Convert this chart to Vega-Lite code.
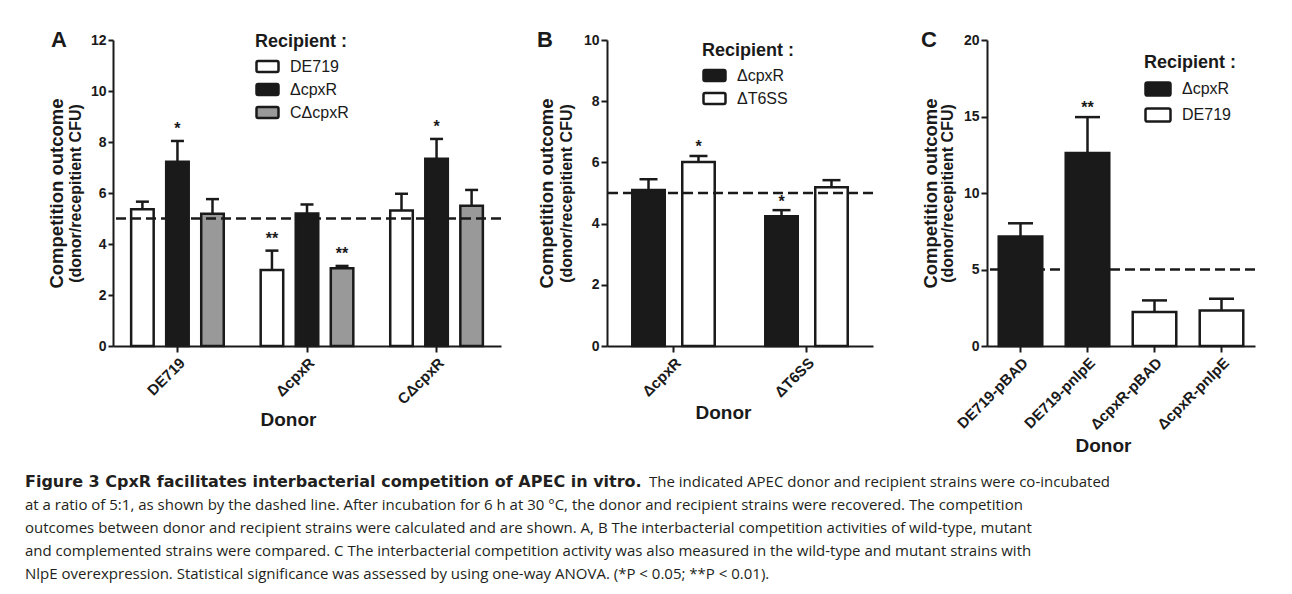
{
  "$schema": "https://vega.github.io/schema/vega-lite/v6.json",
  "background": "white",
  "padding": {"left": 25, "top": 29, "right": 5, "bottom": 5},
  "config": {
    "font": "Liberation Sans",
    "view": {"stroke": null},
    "axis": {
      "grid": false,
      "domainColor": "#1a1a1a",
      "domainWidth": 2,
      "tickColor": "#1a1a1a",
      "tickWidth": 2,
      "labelColor": "#1a1a1a",
      "titleColor": "#1a1a1a",
      "labelFont": "Liberation Sans",
      "titleFont": "Liberation Sans",
      "labelFontWeight": "bold",
      "titleFontWeight": "bold"
    },
    "axisX": {"labelAngle": -45, "labelFontSize": 15, "titleFontSize": 19, "tickSize": 6, "labelPadding": 3, "titlePadding": 4},
    "axisY": {"labelFontSize": 14, "tickSize": 5, "labelPadding": 2},
    "legend": {
      "orient": "none",
      "titleFont": "Liberation Sans",
      "titleFontSize": 18,
      "titleFontWeight": "bold",
      "titleColor": "#1a1a1a",
      "labelFont": "Liberation Sans",
      "labelFontSize": 16,
      "labelColor": "#1a1a1a",
      "labelOffset": 10,
      "titlePadding": 3,
      "rowPadding": 0,
      "symbolStrokeColor": "#1a1a1a",
      "symbolStrokeWidth": 2.5
    },
    "title": {"font": "Liberation Sans", "fontSize": 22, "fontWeight": "bold", "color": "#1a1a1a", "anchor": "start", "frame": "bounds", "offset": -19, "baseline": "alphabetic"}
  },
  "datasets": {
    "a": [
      {"donor": "DE719", "recipient": "DE719", "mean": 5.36, "upper": 5.66, "sig": ""},
      {"donor": "DE719", "recipient": "ΔcpxR", "mean": 7.23, "upper": 8.04, "sig": "*"},
      {"donor": "DE719", "recipient": "CΔcpxR", "mean": 5.19, "upper": 5.76, "sig": ""},
      {"donor": "ΔcpxR", "recipient": "DE719", "mean": 2.98, "upper": 3.74, "sig": "**"},
      {"donor": "ΔcpxR", "recipient": "ΔcpxR", "mean": 5.2, "upper": 5.55, "sig": ""},
      {"donor": "ΔcpxR", "recipient": "CΔcpxR", "mean": 3.05, "upper": 3.14, "sig": "**"},
      {"donor": "CΔcpxR", "recipient": "DE719", "mean": 5.31, "upper": 5.97, "sig": ""},
      {"donor": "CΔcpxR", "recipient": "ΔcpxR", "mean": 7.34, "upper": 8.12, "sig": "*"},
      {"donor": "CΔcpxR", "recipient": "CΔcpxR", "mean": 5.5, "upper": 6.12, "sig": ""}
    ],
    "b": [
      {"donor": "ΔcpxR", "recipient": "ΔcpxR", "mean": 5.1, "upper": 5.45, "sig": ""},
      {"donor": "ΔcpxR", "recipient": "ΔT6SS", "mean": 6.01, "upper": 6.21, "sig": "*"},
      {"donor": "ΔT6SS", "recipient": "ΔcpxR", "mean": 4.24, "upper": 4.44, "sig": "*"},
      {"donor": "ΔT6SS", "recipient": "ΔT6SS", "mean": 5.19, "upper": 5.42, "sig": ""}
    ],
    "c": [
      {"donor": "DE719-pBAD", "recipient": "ΔcpxR", "mean": 7.16, "upper": 8.02, "sig": ""},
      {"donor": "DE719-pnlpE", "recipient": "ΔcpxR", "mean": 12.62, "upper": 14.96, "sig": "**"},
      {"donor": "ΔcpxR-pBAD", "recipient": "DE719", "mean": 2.23, "upper": 2.98, "sig": ""},
      {"donor": "ΔcpxR-pnlpE", "recipient": "DE719", "mean": 2.32, "upper": 3.09, "sig": ""}
    ],
    "ref": [{"ratio": 5}],
    "caption": [
      {"line": 1, "part": "bold", "text": "Figure 3  CpxR facilitates interbacterial competition of APEC in vitro."},
      {"line": 1, "part": "cont", "text": "The indicated APEC donor and recipient strains were co-incubated"},
      {"line": 2, "part": "line", "text": "at a ratio of 5:1, as shown by the dashed line. After incubation for 6 h at 30 °C, the donor and recipient strains were recovered. The competition"},
      {"line": 3, "part": "line", "text": "outcomes between donor and recipient strains were calculated and are shown. A, B The interbacterial competition activities of wild-type, mutant"},
      {"line": 4, "part": "line", "text": "and complemented strains were compared. C The interbacterial competition activity was also measured in the wild-type and mutant strains with"},
      {"line": 5, "part": "line", "text": "NlpE overexpression. Statistical significance was assessed by using one-way ANOVA. (*P < 0.05; **P < 0.01)."}
    ]
  },
  "resolve": {"scale": {"color": "independent", "xOffset": "independent"}},
  "spacing": 15,
  "vconcat": [
    {
      "resolve": {"scale": {"color": "independent", "xOffset": "independent"}},
      "spacing": 34,
      "hconcat": [
        {
          "title": {"text": "A", "dx": 4},
          "width": 388,
          "height": 306,
          "resolve": {"axis": {"y": "independent"}},
          "layer": [
            {
              "data": {"name": "a"},
              "mark": {"type": "bar", "stroke": "#1a1a1a", "strokeWidth": 2.5},
              "encoding": {
                "x": {"field": "donor", "type": "nominal", "sort": null, "scale": {"domain": ["DE719", "ΔcpxR", "CΔcpxR"], "paddingInner": 0.285, "paddingOuter": 0.14}, "axis": {"title": "Donor", "titleX": 175}},
                "xOffset": {"field": "recipient", "type": "nominal", "sort": null, "scale": {"domain": ["DE719", "ΔcpxR", "CΔcpxR"], "paddingInner": 0.357, "paddingOuter": 0}},
                "y": {"field": "mean", "type": "quantitative", "scale": {"domain": [0, 12], "nice": false}, "axis": {"orient": "left", "values": [0, 2, 4, 6, 8, 10, 12], "title": "(donor/recepitient CFU)", "titleFontSize": 16, "titlePadding": 7}},
                "color": {"field": "recipient", "type": "nominal", "sort": null, "scale": {"domain": ["DE719", "ΔcpxR", "CΔcpxR"], "range": ["#ffffff", "#1a1a1a", "#999999"]}, "legend": {"title": "Recipient :", "legendX": 142, "legendY": -7, "symbolType": "M-0.85,-0.5H0.85Q1,-0.5 1,-0.35V0.35Q1,0.5 0.85,0.5H-0.85Q-1,0.5 -1,0.35V-0.35Q-1,-0.5 -0.85,-0.5Z", "symbolSize": 484}}
              }
            },
            {
              "data": {"name": "a"},
              "mark": {"type": "rule", "strokeWidth": 2.5, "color": "#1a1a1a"},
              "encoding": {
                "x": {"field": "donor", "type": "nominal", "sort": null},
                "xOffset": {"field": "recipient", "type": "nominal", "sort": null},
                "y": {"field": "mean", "type": "quantitative", "axis": null},
                "y2": {"field": "upper"}
              }
            },
            {
              "data": {"name": "a"},
              "mark": {"type": "tick", "size": 13, "thickness": 2.5, "color": "#1a1a1a", "opacity": 1},
              "encoding": {
                "x": {"field": "donor", "type": "nominal", "sort": null},
                "xOffset": {"field": "recipient", "type": "nominal", "sort": null},
                "y": {"field": "upper", "type": "quantitative", "axis": null}
              }
            },
            {
              "data": {"name": "a"},
              "transform": [{"filter": "datum.sig != ''"}],
              "mark": {"type": "text", "fontSize": 16, "fontWeight": "bold", "baseline": "alphabetic", "dy": -7, "color": "#1a1a1a"},
              "encoding": {
                "x": {"field": "donor", "type": "nominal", "sort": null},
                "xOffset": {"field": "recipient", "type": "nominal", "sort": null},
                "y": {"field": "upper", "type": "quantitative", "axis": null},
                "text": {"field": "sig"}
              }
            },
            {
              "data": {"name": "ref"},
              "mark": {"type": "rule", "strokeDash": [10, 5], "strokeWidth": 2.5, "color": "#1a1a1a"},
              "encoding": {"y": {"field": "ratio", "type": "quantitative", "axis": {"orient": "left", "labels": false, "ticks": false, "domain": false, "title": "Competition outcome", "titleFontSize": 18.5, "titlePadding": 47}}}
            }
          ]
        },
        {
          "resolve": {"scale": {"color": "independent", "xOffset": "independent"}},
          "spacing": 46,
          "hconcat": [
            {
              "title": {"text": "B"},
              "width": 266,
              "height": 306,
              "resolve": {"axis": {"y": "independent"}},
              "layer": [
                {
                  "data": {"name": "b"},
                  "mark": {"type": "bar", "stroke": "#1a1a1a", "strokeWidth": 2.5},
                  "encoding": {
                    "x": {"field": "donor", "type": "nominal", "sort": null, "scale": {"domain": ["ΔcpxR", "ΔT6SS"], "paddingInner": 0.38, "paddingOuter": 0.19}, "axis": {"title": "Donor", "titleX": 116}},
                    "xOffset": {"field": "recipient", "type": "nominal", "sort": null, "scale": {"domain": ["ΔcpxR", "ΔT6SS"], "paddingInner": 0.35, "paddingOuter": 0}},
                    "y": {"field": "mean", "type": "quantitative", "scale": {"domain": [0, 10], "nice": false}, "axis": {"orient": "left", "values": [0, 2, 4, 6, 8, 10], "tickSize": 6, "title": "(donor/recepitient CFU)", "titleFontSize": 16, "titlePadding": 9}},
                    "color": {"field": "recipient", "type": "nominal", "sort": null, "scale": {"domain": ["ΔcpxR", "ΔT6SS"], "range": ["#1a1a1a", "#ffffff"]}, "legend": {"title": "Recipient :", "legendX": 95, "legendY": 2, "symbolType": "M-0.85,-0.5H0.85Q1,-0.5 1,-0.35V0.35Q1,0.5 0.85,0.5H-0.85Q-1,0.5 -1,0.35V-0.35Q-1,-0.5 -0.85,-0.5Z", "symbolSize": 484}}
                  }
                },
                {
                  "data": {"name": "b"},
                  "mark": {"type": "rule", "strokeWidth": 2.5, "color": "#1a1a1a"},
                  "encoding": {
                    "x": {"field": "donor", "type": "nominal", "sort": null},
                    "xOffset": {"field": "recipient", "type": "nominal", "sort": null},
                    "y": {"field": "mean", "type": "quantitative", "axis": null},
                    "y2": {"field": "upper"}
                  }
                },
                {
                  "data": {"name": "b"},
                  "mark": {"type": "tick", "size": 18, "thickness": 2.5, "color": "#1a1a1a", "opacity": 1},
                  "encoding": {
                    "x": {"field": "donor", "type": "nominal", "sort": null},
                    "xOffset": {"field": "recipient", "type": "nominal", "sort": null},
                    "y": {"field": "upper", "type": "quantitative", "axis": null}
                  }
                },
                {
                  "data": {"name": "b"},
                  "transform": [{"filter": "datum.sig != ''"}],
                  "mark": {"type": "text", "fontSize": 16, "fontWeight": "bold", "baseline": "alphabetic", "dy": -3.5, "color": "#1a1a1a"},
                  "encoding": {
                    "x": {"field": "donor", "type": "nominal", "sort": null},
                    "xOffset": {"field": "recipient", "type": "nominal", "sort": null},
                    "y": {"field": "upper", "type": "quantitative", "axis": null},
                    "text": {"field": "sig"}
                  }
                },
                {
                  "data": {"name": "ref"},
                  "mark": {"type": "rule", "strokeDash": [10, 5], "strokeWidth": 2.5, "color": "#1a1a1a"},
                  "encoding": {"y": {"field": "ratio", "type": "quantitative", "axis": {"orient": "left", "labels": false, "ticks": false, "domain": false, "title": "Competition outcome", "titleFontSize": 18.5, "titlePadding": 51}}}
                }
              ]
            },
            {
              "title": {"text": "C"},
              "width": 268,
              "height": 306,
              "resolve": {"axis": {"y": "independent"}},
              "layer": [
                {
                  "data": {"name": "c"},
                  "mark": {"type": "bar", "stroke": "#1a1a1a", "strokeWidth": 2.5},
                  "encoding": {
                    "x": {"field": "donor", "type": "nominal", "sort": null, "scale": {"domain": ["DE719-pBAD", "DE719-pnlpE", "ΔcpxR-pBAD", "ΔcpxR-pnlpE"], "paddingInner": 0.35, "paddingOuter": 0.175}, "axis": {"title": "Donor", "titleX": 116}},
                    "y": {"field": "mean", "type": "quantitative", "scale": {"domain": [0, 20], "nice": false}, "axis": {"orient": "left", "values": [0, 5, 10, 15, 20], "tickSize": 6, "title": "(donor/recepitient CFU)", "titleFontSize": 16, "titlePadding": 8}},
                    "color": {"field": "recipient", "type": "nominal", "sort": null, "scale": {"domain": ["ΔcpxR", "DE719"], "range": ["#1a1a1a", "#ffffff"]}, "legend": {"title": "Recipient :", "legendX": 157, "legendY": 14, "symbolType": "M-0.85,-0.52H0.85Q1,-0.52 1,-0.37V0.37Q1,0.52 0.85,0.52H-0.85Q-1,0.52 -1,0.37V-0.37Q-1,-0.52 -0.85,-0.52Z", "symbolSize": 625}}
                  }
                },
                {
                  "data": {"name": "c"},
                  "mark": {"type": "rule", "strokeWidth": 2.5, "color": "#1a1a1a"},
                  "encoding": {
                    "x": {"field": "donor", "type": "nominal", "sort": null},
                    "y": {"field": "mean", "type": "quantitative", "axis": null},
                    "y2": {"field": "upper"}
                  }
                },
                {
                  "data": {"name": "c"},
                  "mark": {"type": "tick", "size": 25, "thickness": 2.5, "color": "#1a1a1a", "opacity": 1},
                  "encoding": {
                    "x": {"field": "donor", "type": "nominal", "sort": null},
                    "y": {"field": "upper", "type": "quantitative", "axis": null}
                  }
                },
                {
                  "data": {"name": "c"},
                  "transform": [{"filter": "datum.sig != ''"}],
                  "mark": {"type": "text", "fontSize": 16, "fontWeight": "bold", "baseline": "alphabetic", "dy": -4, "color": "#1a1a1a"},
                  "encoding": {
                    "x": {"field": "donor", "type": "nominal", "sort": null},
                    "y": {"field": "upper", "type": "quantitative", "axis": null},
                    "text": {"field": "sig"}
                  }
                },
                {
                  "data": {"name": "ref"},
                  "mark": {"type": "rule", "strokeDash": [10, 5], "strokeWidth": 2.5, "color": "#1a1a1a"},
                  "encoding": {"y": {"field": "ratio", "type": "quantitative", "axis": {"orient": "left", "labels": false, "ticks": false, "domain": false, "title": "Competition outcome", "titleFontSize": 18.5, "titlePadding": 47}}}
                }
              ]
            }
          ]
        }
      ]
    },
    {
      "width": 1160,
      "height": 114,
      "data": {"name": "caption"},
      "encoding": {
        "x": {"value": 0},
        "y": {"field": "line", "type": "ordinal", "axis": null, "scale": {"paddingInner": 0, "paddingOuter": 0}},
        "text": {"field": "text"}
      },
      "layer": [
        {
          "transform": [{"filter": "datum.part == 'bold'"}],
          "mark": {"type": "text", "align": "left", "baseline": "middle", "font": "DejaVu Sans", "fontSize": 16, "fontWeight": "bold", "dx": -88, "color": "#231f20"}
        },
        {
          "transform": [{"filter": "datum.part == 'cont'"}],
          "mark": {"type": "text", "align": "left", "baseline": "middle", "font": "Open Sans", "fontSize": 15, "dx": 536, "color": "#231f20"}
        },
        {
          "transform": [{"filter": "datum.part == 'line'"}],
          "mark": {"type": "text", "align": "left", "baseline": "middle", "font": "Open Sans", "fontSize": 15, "dx": -88, "color": "#231f20"}
        }
      ]
    }
  ]
}
